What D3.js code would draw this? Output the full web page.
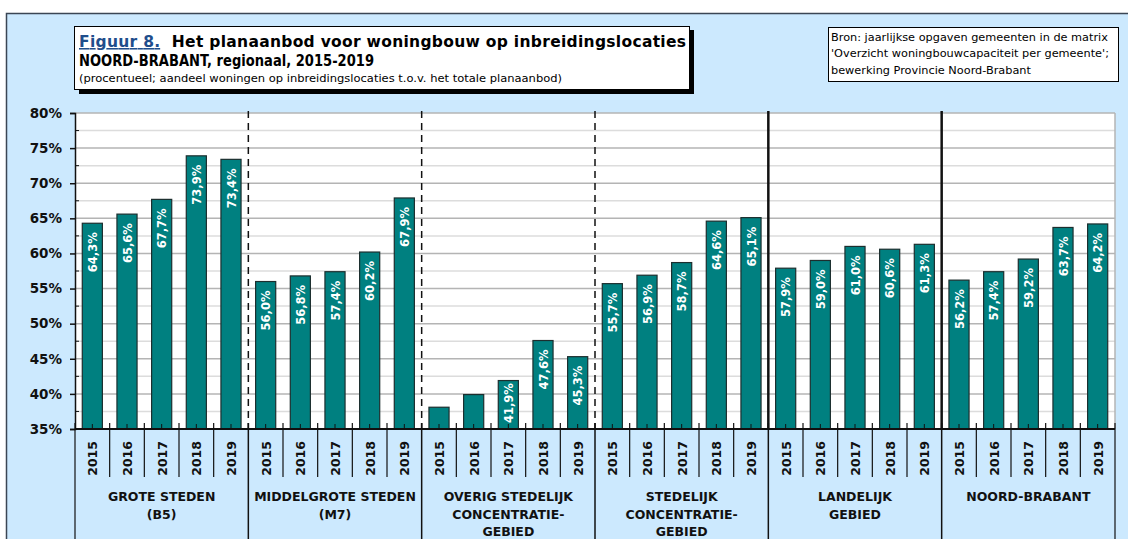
<!DOCTYPE html>
<html>
<head>
<meta charset="utf-8">
<script src="https://cdn.jsdelivr.net/npm/d3@7"></script>
<style>
  body { margin: 0; background: #fff; }
  text { font-family: "DejaVu Sans", sans-serif; }
</style>
</head>
<body>
<script>
// data
var years = ["2015", "2016", "2017", "2018", "2019"];
var groupNames = [
    ["GROTE STEDEN", "(B5)"],
    ["MIDDELGROTE STEDEN", "(M7)"],
    ["OVERIG STEDELIJK", "CONCENTRATIE-", "GEBIED"],
    ["STEDELIJK", "CONCENTRATIE-", "GEBIED"],
    ["LANDELIJK", "GEBIED"],
    ["NOORD-BRABANT"]
];
var groteSteden = [64.3, 65.6, 67.7, 73.9, 73.4];
var middelgroteSteden = [56.0, 56.8, 57.4, 60.2, 67.9];
var overigStedelijk = [38.1, 39.9, 41.9, 47.6, 45.3];
var stedelijkConc = [55.7, 56.9, 58.7, 64.6, 65.1];
var landelijk = [57.9, 59.0, 61.0, 60.6, 61.3];
var noordBrabant = [56.2, 57.4, 59.2, 63.7, 64.2];
var yTicks = [35, 40, 45, 50, 55, 60, 65, 70, 75, 80];
// separator style between groups (after group i)
var sepStyle = ["dashed", "dashed", "dashed", "solid", "solid"];

var series = [groteSteden, middelgroteSteden, overigStedelijk, stedelijkConc, landelijk, noordBrabant];

var data = [];
series.forEach(function (vals, g) {
    vals.forEach(function (v, i) {
        data.push({key: g + "-" + years[i], group: g, year: years[i], value: v});
    });
});

var width = 1128, height = 539;
var plotL = 75, plotR = 1115, plotT = 113, plotB = 429;

var svg = d3.select("body").append("svg")
    .attr("width", width)
    .attr("height", height);

svg.append("rect").attr("width", width).attr("height", height).attr("fill", "#fff");

// blue frame
svg.append("rect")
    .attr("x", 6.5).attr("y", 13.5)
    .attr("width", 1300).attr("height", 700)
    .attr("fill", "#cce9fe")
    .attr("stroke", "#3b4654")
    .attr("stroke-width", 1.5);

var x = d3.scaleBand()
    .domain(data.map(function (d) { return d.key; }))
    .range([plotL, plotR])
    .paddingInner(0.42)
    .paddingOuter(0.21);

var step = x.step();

var y = d3.scaleLinear()
    .domain([35, 80])
    .range([plotB, plotT]);

// plot area
svg.append("rect")
    .attr("x", plotL).attr("y", plotT)
    .attr("width", plotR - plotL).attr("height", plotB - plotT)
    .attr("fill", "#fff");

// gridlines
var minor = d3.range(35, 80.1, 2.5);
svg.append("g").selectAll("line")
    .data(minor)
    .enter().append("line")
    .attr("x1", plotL).attr("x2", plotR)
    .attr("y1", function (d) { return y(d); })
    .attr("y2", function (d) { return y(d); })
    .attr("stroke", function (d) { return d % 5 === 0 ? "#b4b4b4" : "#dcdcdc"; })
    .attr("stroke-width", 1.5);

// right border
svg.append("line")
    .attr("x1", plotR).attr("x2", plotR)
    .attr("y1", plotT).attr("y2", plotB)
    .attr("stroke", "#b4b4b4").attr("stroke-width", 1.5);

// group separators inside plot
svg.append("g").selectAll("line")
    .data(sepStyle)
    .enter().append("line")
    .attr("x1", function (d, i) { return plotL + (i + 1) * 5 * step; })
    .attr("x2", function (d, i) { return plotL + (i + 1) * 5 * step; })
    .attr("y1", plotT - 2).attr("y2", plotB)
    .attr("stroke", "#111")
    .attr("stroke-width", function (d) { return d === "solid" ? 2.5 : 1.5; })
    .attr("stroke-dasharray", function (d) { return d === "dashed" ? "7,5" : null; });

// bars
svg.append("g").selectAll("rect")
    .data(data)
    .enter().append("rect")
    .attr("x", function (d) { return x(d.key); })
    .attr("y", function (d) { return y(d.value); })
    .attr("width", x.bandwidth())
    .attr("height", function (d) { return plotB - y(d.value); })
    .attr("fill", "#008080")
    .attr("stroke", "#1c2e2e")
    .attr("stroke-width", 1.2);

// value labels (inside bar top, pushed up when the bar is short)
var fmt = function (v) { return d3.format(".1f")(v).replace(".", ",") + "%"; };
svg.append("g").selectAll("text")
    .data(data.filter(function (d) { return plotB - y(d.value) > 44; }))
    .enter().append("text")
    .attr("text-anchor", "end")
    .attr("fill", "#fff")
    .attr("font-weight", "bold")
    .attr("font-size", "11.5px")
    .text(function (d) { return fmt(d.value); })
    .attr("transform", function (d) {
        var len = this.getComputedTextLength();
        var topY = Math.min(y(d.value) + 9, plotB - 6 - len);
        return "translate(" + (x(d.key) + x.bandwidth() / 2 + 4.5) + "," + topY + ") rotate(-90)";
    });

// small ticks at bar centres
svg.append("g").selectAll("line")
    .data(data)
    .enter().append("line")
    .attr("x1", function (d) { return x(d.key) + x.bandwidth() / 2; })
    .attr("x2", function (d) { return x(d.key) + x.bandwidth() / 2; })
    .attr("y1", plotB - 5).attr("y2", plotB)
    .attr("stroke", "#111").attr("stroke-width", 1);

// y axis
var yAxis = svg.append("g")
    .attr("transform", "translate(" + plotL + ",0)")
    .call(d3.axisLeft(y).tickValues(yTicks).tickSize(5).tickFormat(function (d) { return d + "%"; }));
yAxis.select(".domain").attr("stroke", "#111").attr("stroke-width", 1.5);
yAxis.selectAll(".tick line").attr("stroke", "#111").attr("stroke-width", 1.5);
yAxis.selectAll(".tick text")
    .attr("x", -13)
    .attr("font-family", "DejaVu Sans, sans-serif")
    .attr("font-size", "13.5px")
    .attr("font-weight", "bold")
    .attr("fill", "#111");
// minor y ticks
svg.append("g").selectAll("line")
    .data(minor.filter(function (d) { return d % 5 !== 0; }))
    .enter().append("line")
    .attr("x1", plotL).attr("x2", plotL + 4)
    .attr("y1", function (d) { return y(d); }).attr("y2", function (d) { return y(d); })
    .attr("stroke", "#111").attr("stroke-width", 1);

// x axis line
svg.append("line")
    .attr("x1", plotL).attr("x2", plotR)
    .attr("y1", plotB).attr("y2", plotB)
    .attr("stroke", "#111").attr("stroke-width", 2);

// year separators (category boundaries)
var bounds = d3.range(0, data.length + 1);
svg.append("g").selectAll("line")
    .data(bounds)
    .enter().append("line")
    .attr("x1", function (i) { return plotL + i * step; })
    .attr("x2", function (i) { return plotL + i * step; })
    .attr("y1", plotB - 6)
    .attr("y2", function (i) { return i % 5 === 0 ? height : 477; })
    .attr("stroke", "#111")
    .attr("stroke-width", function (i) { return i % 5 === 0 && i > 0 && i < 30 ? 1.5 : 1.2; });

// year labels
svg.append("g").selectAll("text")
    .data(data)
    .enter().append("text")
    .attr("transform", function (d) {
        return "translate(" + (x(d.key) + x.bandwidth() / 2 + 5) + ",441) rotate(-90)";
    })
    .attr("text-anchor", "end")
    .attr("font-weight", "bold")
    .attr("font-size", "12.5px")
    .attr("fill", "#111")
    .text(function (d) { return d.year; });

// group labels
var gl = svg.append("g").selectAll("text")
    .data(groupNames)
    .enter().append("text")
    .attr("x", function (d, i) { return plotL + (i * 5 + 2.5) * step; })
    .attr("y", 501)
    .attr("text-anchor", "middle")
    .attr("font-weight", "bold")
    .attr("font-size", "12.5px")
    .attr("fill", "#111");
gl.selectAll("tspan")
    .data(function (d) { return d; })
    .enter().append("tspan")
    .attr("x", function () { return d3.select(this.parentNode).attr("x"); })
    .attr("dy", function (d, i) { return i === 0 ? 0 : 17.5; })
    .text(function (d) { return d; });

// title box
svg.append("rect")
    .attr("x", 79).attr("y", 30)
    .attr("width", 615).attr("height", 64)
    .attr("fill", "#000");
svg.append("rect")
    .attr("x", 74.5).attr("y", 26.5)
    .attr("width", 615).attr("height", 63)
    .attr("fill", "#fff")
    .attr("stroke", "#000").attr("stroke-width", 1);

var t1 = svg.append("text")
    .attr("x", 79).attr("y", 47)
    .attr("font-weight", "bold")
    .attr("font-size", "15.5px")
    .attr("fill", "#000")
    .attr("textLength", 607)
    .attr("lengthAdjust", "spacing");
t1.append("tspan")
    .attr("fill", "#1f4e8c")
    .attr("text-decoration", "underline")
    .text("Figuur 8.");
t1.append("tspan")
    .text("\u00a0\u00a0Het planaanbod voor woningbouw op inbreidingslocaties");

svg.append("text")
    .attr("x", 79).attr("y", 66)
    .attr("font-weight", "bold")
    .attr("font-size", "15.5px")
    .attr("fill", "#000")
    .attr("textLength", 295)
    .attr("lengthAdjust", "spacingAndGlyphs")
    .text("NOORD-BRABANT, regionaal, 2015-2019");

svg.append("text")
    .attr("x", 79).attr("y", 82)
    .attr("font-size", "10.5px")
    .attr("fill", "#000")
    .attr("textLength", 483)
    .attr("lengthAdjust", "spacingAndGlyphs")
    .text("(procentueel; aandeel woningen op inbreidingslocaties t.o.v. het totale planaanbod)");

// source box
svg.append("rect")
    .attr("x", 828.5).attr("y", 27.5)
    .attr("width", 290).attr("height", 54)
    .attr("fill", "#fff")
    .attr("stroke", "#000").attr("stroke-width", 1);

var src = ["Bron: jaarlijkse opgaven gemeenten in de matrix",
    "'Overzicht woningbouwcapaciteit per gemeente';",
    "bewerking Provincie Noord-Brabant"];
svg.append("g").selectAll("text")
    .data(src)
    .enter().append("text")
    .attr("x", 831)
    .attr("y", function (d, i) { return 40.5 + i * 16.5; })
    .attr("font-size", "11.3px")
    .attr("fill", "#000")
    .text(function (d) { return d; });
</script>
</body>
</html>
